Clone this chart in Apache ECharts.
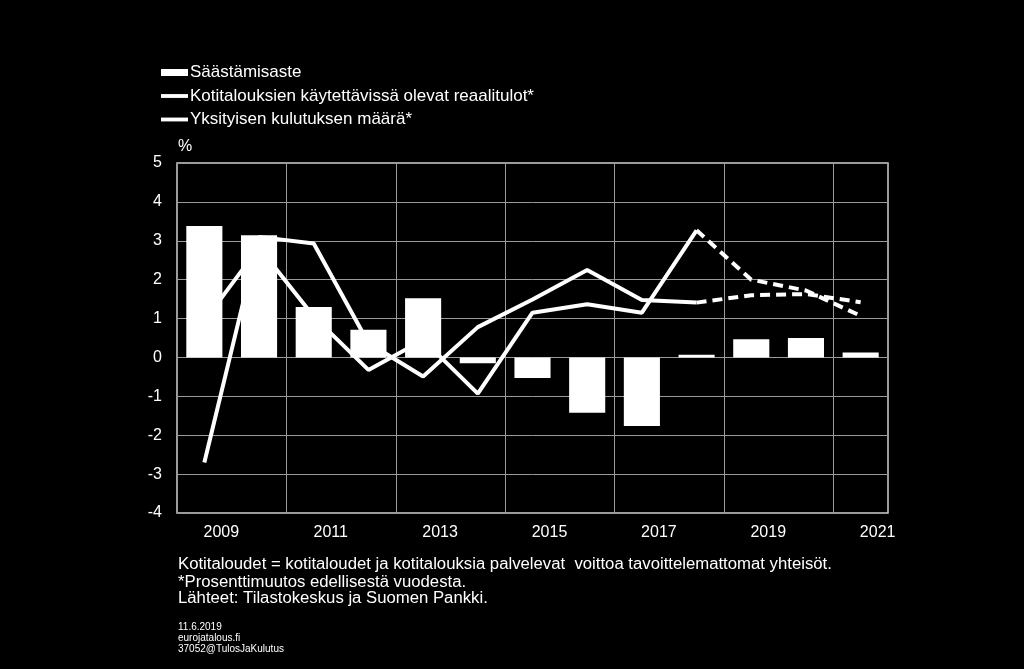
<!DOCTYPE html>
<html>
<head>
<meta charset="utf-8">
<script src="https://cdn.jsdelivr.net/npm/echarts@6/dist/echarts.min.js"></script>
<style>
html,body{margin:0;padding:0;background:#000;}
#chart{width:1024px;height:669px;}
</style>
</head>
<body>
<div id="chart"></div>
<script>
// ---- data ----
const years = ['2009','2010','2011','2012','2013','2014','2015','2016','2017','2018','2019','2020','2021'];
const savingRate = [3.38, 3.14, 1.30, 0.71, 1.52, -0.15, -0.53, -1.42, -1.76, 0.07, 0.47, 0.50, 0.13];
const realIncome = [0.94, 2.83, 1.05, -0.32, 0.45, -0.93, 1.15, 1.37, 1.15, 3.27, 2.00, 1.72, 1.07];
const consumption = [-2.70, 3.10, 2.93, 0.37, -0.49, 0.78, 1.49, 2.25, 1.48, 1.41, 1.60, 1.63, 1.42];
const forecastStart = 9; // 2018 onwards dashed
const yTicks = { min: -4, max: 5, interval: 1 };
const names = ['Säästämisaste', 'Kotitalouksien käytettävissä olevat reaalitulot*', 'Yksityisen kulutuksen määrä*'];
const notes = [
  'Kotitaloudet = kotitaloudet ja kotitalouksia palvelevat  voittoa tavoittelemattomat yhteisöt.',
  '*Prosenttimuutos edellisestä vuodesta.',
  'Lähteet: Tilastokeskus ja Suomen Pankki.'
];
const smallNotes = ['11.6.2019', 'eurojatalous.fi', '37052@TulosJaKulutus'];

const solid = arr => arr.map((v, i) => i <= forecastStart ? v : null);
const dashed = arr => arr.map((v, i) => i >= forecastStart ? v : null);

const FONT = 'Liberation Sans, Arial, sans-serif';
const chart = echarts.init(document.getElementById('chart'));

function lineSeries(name, data, dash) {
  return {
    name: name, type: 'line', data: data, symbol: 'none', z: 2,
    connectNulls: false,
    lineStyle: { color: '#fff', width: 4, type: dash ? [10, 6] : 'solid' },
    itemStyle: { color: '#fff' },
    animation: false
  };
}

const graphics = [
  { type: 'text', left: 178, top: 139, style: { text: '%', fill: '#fff', font: '16px ' + FONT } }
];
notes.forEach((t, i) => graphics.push({ type: 'text', x: 178, y: [557, 575, 591][i], scaleX: 1.045, style: { text: t, fill: '#fff', font: '16px ' + FONT, textVerticalAlign: 'top' } }));
smallNotes.forEach((t, i) => graphics.push({ type: 'text', left: 178, top: 622 + i * 11, style: { text: t, fill: '#fff', font: '10px ' + FONT } }));

const lineIcon = 'path://M0,0H28V4H0Z';

chart.setOption({
  backgroundColor: '#000',
  animation: false,
  textStyle: { fontFamily: FONT },
  legend: {
    orient: 'vertical', left: 156, top: 59, itemWidth: 27, itemHeight: 7, itemGap: 6.5,
    selectedMode: false,
    data: [
      { name: names[0], icon: 'rect' },
      { name: names[1], icon: lineIcon },
      { name: names[2], icon: lineIcon }
    ],
    textStyle: { color: '#fff', fontSize: 17, fontFamily: FONT, lineHeight: 17, padding: [0, 0, 0, -3] }
  },
  grid: { left: 177, right: 136, top: 163, bottom: 156, show: true, borderColor: '#d0d0d0', borderWidth: 1.5, backgroundColor: 'transparent' },
  xAxis: {
    type: 'category', data: years, boundaryGap: true,
    axisLine: { show: false }, axisTick: { show: false },
    axisLabel: { interval: 1, color: '#fff', fontSize: 16, margin: 12, padding: [0, 0, 0, 34] },
    splitLine: { show: true, interval: 1, lineStyle: { color: '#9a9a9a', width: 1 } }
  },
  yAxis: {
    type: 'value', min: yTicks.min, max: yTicks.max, interval: yTicks.interval,
    axisLine: { show: false }, axisTick: { show: false },
    axisLabel: { color: '#fff', fontSize: 16, margin: 15 },
    splitLine: { lineStyle: { color: '#9a9a9a', width: 1 } }
  },
  graphic: graphics,
  series: [
    lineSeries(names[1], solid(realIncome), false),
    lineSeries(names[1] + ' e', dashed(realIncome), true),
    lineSeries(names[2], solid(consumption), false),
    lineSeries(names[2] + ' e', dashed(consumption), true),
    { name: names[0], type: 'bar', data: savingRate, barWidth: '66%', z: 5,
      itemStyle: { color: '#fff' } }
  ]
});
</script>
</body>
</html>
